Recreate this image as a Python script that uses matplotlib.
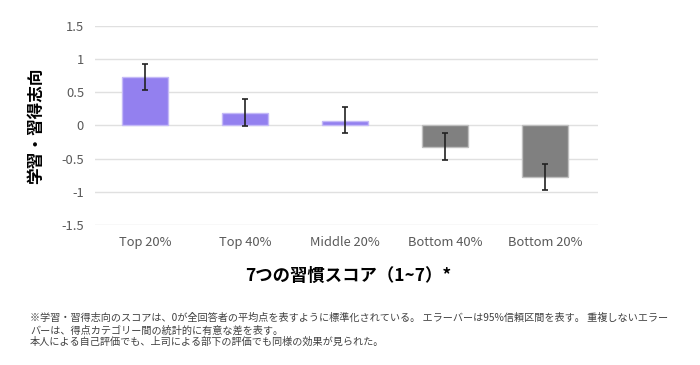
import numpy as np
import matplotlib.pyplot as plt

plt.rcParams['font.family'] = ['Noto Sans CJK JP', 'DejaVu Sans']

# === Données ===
categories = ["Top 20%", "Top 40%", "Middle 20%", "Bottom 40%", "Bottom 20%"]
scores = [0.73, 0.19, 0.07, -0.32, -0.78]
err_low = [0.20, 0.20, 0.19, 0.20, 0.20]
err_high = [0.20, 0.21, 0.21, 0.20, 0.20]
bar_colors = ["#9380ef", "#9380ef", "#9380ef", "#808080", "#808080"]
edge_colors = ["#c4b9f7", "#c4b9f7", "#c4b9f7", "#bfbfbf", "#bfbfbf"]
yticks = [-1.5, -1, -0.5, 0, 0.5, 1, 1.5]

footnote = ("※学習・習得志向のスコアは、0が全回答者の平均点を表すように標準化されている。 エラーバーは95%信頼区間を表す。 重複しないエラー\n"
            "バーは、得点カテゴリー間の統計的に有意な差を表す。\n"
            "本人による自己評価でも、上司による部下の評価でも同様の効果が見られた。")

fig = plt.figure(figsize=(7, 3.65), dpi=100)
ax = fig.add_axes([0.136, 0.384, 0.718, 0.545])

x = np.arange(len(categories))
ax.bar(x, scores, width=0.46, color=bar_colors, edgecolor=edge_colors, linewidth=1, zorder=2)
ax.errorbar(x, scores, yerr=[err_low, err_high], fmt='none', ecolor='#222222',
            elinewidth=1.2, capsize=2.5, capthick=1.2, zorder=3)

ax.set_xlim(-0.5, 4.53)
ax.set_ylim(-1.5, 1.5)
ax.set_yticks(yticks)
ax.set_yticklabels([f"{v:g}" for v in yticks])
ax.set_xticks(x)
ax.set_xticklabels(categories)
ax.tick_params(length=0, labelsize=9.3, labelcolor='#595959', pad=8)
ax.grid(axis='y', color='#e0e0e0', linewidth=1, zorder=0)
for s in ax.spines.values():
    s.set_visible(False)

fig.text(0.052, 0.655, "学習・習得志向", rotation=90, fontsize=12, fontweight='bold',
         ha='center', va='center')
fig.text(0.497, 0.245, "7つの習慣スコア（1~7）*", fontsize=12.5, fontweight='bold',
         ha='center', va='center')
fig.text(0.043, 0.142, footnote, fontsize=7.3, color='#404040', ha='left', va='top',
         linespacing=1.2)

plt.savefig("out.png", dpi=100)
